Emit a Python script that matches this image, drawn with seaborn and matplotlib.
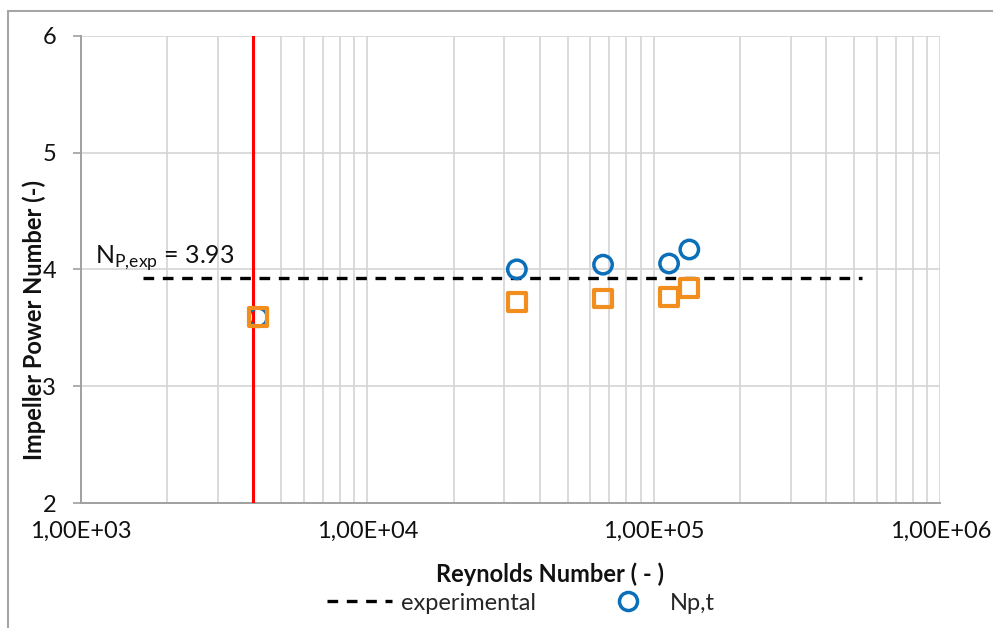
import numpy as np
import pandas as pd
import seaborn as sns
import matplotlib
matplotlib.use("Agg")
import matplotlib.pyplot as plt
from matplotlib.ticker import FixedLocator, FuncFormatter, LogLocator, NullFormatter
from matplotlib.lines import Line2D

# Simulated impeller power numbers vs Reynolds number
re_sim = [4150, 33240, 66460, 113000, 133000]
np_t = [3.59, 4.00, 4.04, 4.05, 4.17]
np_sq = [3.59, 3.72, 3.75, 3.765, 3.84]

# Experimental reference value and its line extent
np_exp = 3.93
re_exp_range = [1650, 535000]

# Laminar/transition marker
re_limit = 4000

x_ticks = [1e3, 1e4, 1e5, 1e6]
y_ticks = [2, 3, 4, 5, 6]

sns.set_theme(style="white")
plt.rcParams["font.family"] = ["Lato", "DejaVu Sans"]
plt.rcParams["mathtext.fontset"] = "custom"
plt.rcParams["mathtext.rm"] = "Lato"

W, H = 993, 628
AX_L, AX_R, AX_T, AX_B = 81, 940.3, 35.7, 503
fig = plt.figure(figsize=(W / 100, H / 100), dpi=100)
ax = fig.add_axes([AX_L / W, 1 - AX_B / H, (AX_R - AX_L) / W, (AX_B - AX_T) / H])

df_t = pd.DataFrame({"Re": re_sim, "Np": np_t})
df_sq = pd.DataFrame({"Re": re_sim, "Np": np_sq})
df_exp = pd.DataFrame({"Re": re_exp_range, "Np": [np_exp, np_exp]})

ax.set_xscale("log")
ax.set_xlim(x_ticks[0], x_ticks[-1])
ax.set_ylim(y_ticks[0], y_ticks[-1])

grid_c = "#d4d4d4"
ax.xaxis.set_major_locator(FixedLocator(x_ticks))
ax.xaxis.set_minor_locator(LogLocator(base=10, subs=np.arange(2, 10)))
ax.xaxis.set_minor_formatter(NullFormatter())
ax.yaxis.set_major_locator(FixedLocator(y_ticks))
ax.grid(True, which="major", axis="both", color=grid_c, lw=1.2)
ax.grid(True, which="minor", axis="x", color=grid_c, lw=1.2)
ax.set_axisbelow(True)

def sci_comma(v, pos):
    e = int(round(np.log10(v)))
    return f"1,00E+{e:02d}"

ax.xaxis.set_major_formatter(FuncFormatter(sci_comma))
ax.yaxis.set_major_formatter(FuncFormatter(lambda v, p: f"{int(v)}"))

FS = 17
ax.tick_params(axis="x", which="both", length=0, pad=13, labelsize=FS, labelcolor="#111111")
ax.tick_params(axis="y", which="major", length=6, width=1.2, color="#a0a0a0",
               direction="out", pad=12, labelsize=FS, labelcolor="#111111")
ax.tick_params(left=True)

for side in ["top", "right"]:
    ax.spines[side].set_visible(False)
for side in ["left", "bottom"]:
    ax.spines[side].set_color("#a0a0a0")
    ax.spines[side].set_linewidth(1.4)

# Experimental power number
DASH = [3.2, 2.6]
sns.lineplot(data=df_exp, x="Re", y="Np", ax=ax, color="black", lw=2.4,
             dashes=False, legend=False, zorder=3)
ax.lines[-1].set_dashes(DASH)

# Transition limit
ax.axvline(re_limit, color="#ff0000", lw=2.2, zorder=4)

blue, orange = "#0a6fb8", "#f28e1e"
sns.scatterplot(data=df_t, x="Re", y="Np", ax=ax, marker="o", s=175,
                facecolor="none", edgecolor=blue, linewidth=2.5, zorder=5, legend=False)
sns.scatterplot(data=df_sq, x="Re", y="Np", ax=ax, marker="s", s=165,
                facecolor="none", edgecolor=orange, linewidth=3.0, zorder=6, legend=False)

ax.text(1115, np_exp + 0.04, r"N$_\mathregular{P{,}exp}$ = 3.93", fontsize=18,
        color="#111111", ha="left", va="bottom", zorder=7)

ax.set_xlabel("Reynolds Number ( - )", fontsize=FS, fontweight="bold", color="#111111")
ax.set_ylabel("Impeller Power Number (-)", fontsize=FS, fontweight="bold", color="#111111")
ax.xaxis.set_label_coords((550 - AX_L) / (AX_R - AX_L), -(562 - AX_B) / (AX_B - AX_T))
ax.yaxis.set_label_coords(-(AX_L - 46) / (AX_R - AX_L), (AX_B - 320) / (AX_B - AX_T))

handles = [
    Line2D([], [], color="black", lw=2.4, dashes=DASH),
    Line2D([], [], color=blue, marker="o", ls="none", markersize=13,
           markerfacecolor="none", markeredgewidth=2.5),
]
fig.legend(handles, ["experimental", "Np,t"], loc="center",
           bbox_to_anchor=(521 / W, 1 - 603 / H), ncol=2, frameon=False,
           fontsize=FS, handlelength=2.75, handletextpad=0.4, columnspacing=2.5)

# Outer chart frame
border_c = "#a6a6a6"
fig.add_artist(Line2D([8 / W, 8 / W], [0, 1 - 11 / H], color=border_c, lw=1.5,
                      transform=fig.transFigure))
fig.add_artist(Line2D([8 / W, 1], [1 - 11 / H, 1 - 11 / H], color=border_c, lw=1.5,
                      transform=fig.transFigure))

fig.savefig("out.png", dpi=100, facecolor="white")
